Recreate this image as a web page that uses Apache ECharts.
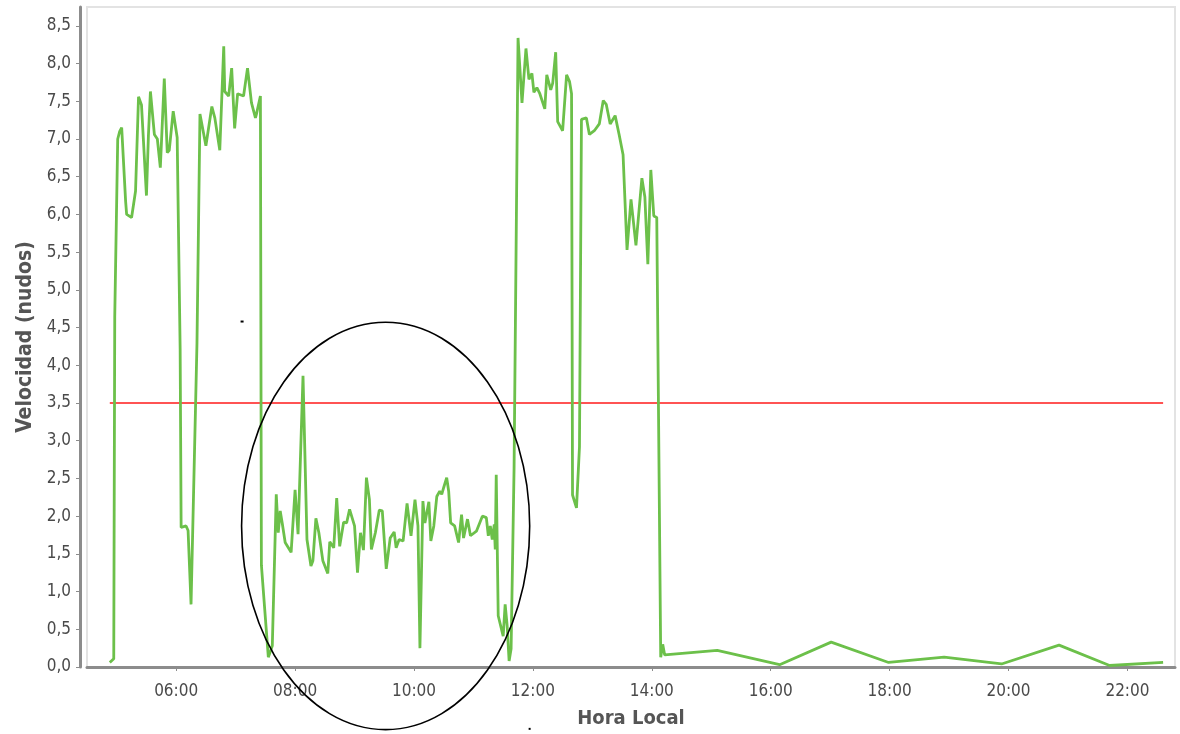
<!DOCTYPE html>
<html>
<head>
<meta charset="utf-8">
<script src="https://cdn.jsdelivr.net/npm/echarts@6/dist/echarts.min.js"></script>
<style>
html,body{margin:0;padding:0;background:#fff;}
#chart{width:1180px;height:734px;}
</style>
</head>
<body>
<div id="chart"></div>
<script>
// ---- data ----
const times = [
"04:53","04:57","04:58","05:01","05:03","05:05","05:09","05:10","05:15","05:19",
"05:22","05:25","05:30","05:32","05:34","05:38","05:41","05:44","05:48","05:51",
"05:53","05:57","06:01","06:04","06:05","06:10","06:12","06:15","06:21","06:24",
"06:30","06:36","06:39","06:44","06:48","06:49","06:53","06:56","06:59","07:02",
"07:08","07:12","07:16","07:20","07:21","07:25","07:26","07:33","07:37","07:41",
"07:43","07:45","07:47","07:50","07:56","08:00","08:03","08:08","08:12","08:16",
"08:18","08:21","08:24","08:28","08:33","08:35","08:39","08:42","08:45","08:49",
"08:52","08:55","08:57","09:00","09:03","09:06","09:09","09:12","09:15","09:17",
"09:21","09:25","09:28","09:32","09:36","09:40","09:42","09:45","09:49","09:53",
"09:57","10:01","10:04","10:06","10:09","10:11","10:15","10:17","10:20","10:23",
"10:26","10:28","10:30","10:33","10:35","10:37","10:41","10:45","10:48","10:50",
"10:54","10:57","11:03","11:09","11:13","11:15","11:17","11:19","11:21","11:22",
"11:23","11:25","11:30","11:32","11:34","11:36","11:38","11:41","11:45","11:49",
"11:53","11:56","11:59","12:01","12:04","12:07","12:12","12:14","12:18","12:20",
"12:23","12:25","12:30","12:34","12:37","12:39","12:40","12:44","12:47","12:49",
"12:54","12:57","13:02","13:07","13:11","13:14","13:18","13:23","13:27","13:31",
"13:34","13:35","13:39","13:44","13:50","13:53","13:56","13:59","14:02","14:05",
"14:09","14:11","14:13","15:06","16:09","17:01","17:59","18:55","19:53","20:51",
"21:42","22:36"
];
const speeds = [
0.06,0.11,4.64,7.00,7.10,7.15,6.17,6.00,5.96,6.31,
7.56,7.45,6.25,7.05,7.63,7.06,7.00,6.62,7.80,6.82,
6.85,7.37,7.02,4.22,1.85,1.87,1.81,0.83,4.30,7.33,
6.91,7.43,7.28,6.85,8.23,7.63,7.57,7.94,7.14,7.60,
7.57,7.94,7.48,7.28,7.33,7.57,1.35,0.13,0.28,2.29,
1.78,2.07,1.91,1.65,1.52,2.35,1.76,3.86,1.69,1.34,
1.41,1.97,1.78,1.41,1.24,1.66,1.58,2.24,1.60,1.92,
1.91,2.09,2.07,1.87,1.25,1.78,1.55,2.51,2.22,1.56,
1.78,2.08,2.07,1.30,1.71,1.79,1.58,1.69,1.67,2.17,
1.74,2.22,1.87,0.25,2.20,1.91,2.19,1.67,1.87,2.26,
2.33,2.29,2.38,2.51,2.33,1.91,1.87,1.65,2.02,1.71,
1.96,1.74,1.80,2.00,1.98,1.74,1.87,1.69,1.89,1.56,
2.55,0.68,0.41,0.83,0.55,0.08,0.24,2.64,8.34,7.48,
8.20,7.79,7.87,7.62,7.68,7.60,7.40,7.85,7.65,7.74,
8.15,7.23,7.11,7.85,7.76,7.60,2.28,2.11,2.92,7.26,
7.28,7.06,7.11,7.20,7.51,7.46,7.20,7.31,7.06,6.79,
5.84,5.53,6.20,5.59,6.48,6.23,5.34,6.59,5.98,5.96,
0.13,0.30,0.16,0.22,0.03,0.33,0.06,0.13,0.04,0.29,
0.02,0.06
];
const thresholdTimes = ["04:53","22:36"];
const thresholdValue = 3.5;
const xTickHours = [6,8,10,12,14,16,18,20,22];
const yTickValues = [0,0.5,1,1.5,2,2.5,3,3.5,4,4.5,5,5.5,6,6.5,7,7.5,8,8.5];
// annotation ellipse in data units: centre hour, centre value, half-width (h), half-height (knots)
const ellipseData = [9.523, 1.87, 2.423, 2.70];
// two stray dots in the picture, in data units
const dotData = [[7.10, 4.58], [11.945, -0.82]];

// ---- helpers ----
function toHours(s){const p=s.split(':');return (+p[0])+(+p[1])/60;}
const speedData = times.map((t,i)=>[toHours(t),speeds[i]]);
const thrData = thresholdTimes.map(t=>[toHours(t),thresholdValue]);

const chart = echarts.init(document.getElementById('chart'));
const labelFont = 'DejaVu Sans Condensed, DejaVu Sans, sans-serif';
chart.setOption({
  animation:false,
  backgroundColor:'#ffffff',
  grid:{left:87,right:5,top:7,bottom:66,show:true,borderColor:'#e3e3e3',borderWidth:2,backgroundColor:'#ffffff'},
  xAxis:{
    type:'value',min:4.5,max:22.8,offset:8,
    name:'Hora Local',nameLocation:'middle',nameGap:34,
    nameTextStyle:{fontFamily:labelFont,fontWeight:'bold',fontSize:20,color:'#555'},
    axisLine:{show:true,lineStyle:{color:'#8c8c8c',width:3}},
    axisTick:{show:true,length:4,lineStyle:{color:'#8c8c8c',width:1},customValues:xTickHours},
    axisLabel:{customValues:xTickHours,margin:8,fontSize:17,color:'#4a4a4a',fontFamily:labelFont,
      formatter:v=>(v<10?'0':'')+Math.round(v)+':00'},
    splitLine:{show:false}
  },
  yAxis:{
    type:'value',min:0,max:8.75,offset:7,
    name:'Velocidad (nudos)',nameLocation:'middle',nameRotate:90,nameGap:43,
    nameTextStyle:{fontFamily:labelFont,fontWeight:'bold',fontSize:21,color:'#555'},
    axisLine:{show:true,lineStyle:{color:'#8c8c8c',width:3}},
    axisTick:{show:true,length:4,lineStyle:{color:'#8c8c8c',width:1},customValues:yTickValues},
    axisLabel:{customValues:yTickValues,margin:9,fontSize:17,color:'#4a4a4a',fontFamily:labelFont,
      formatter:v=>v.toFixed(1).replace('.',',')},
    splitLine:{show:false}
  },
  series:[
    {type:'line',data:thrData,symbol:'none',lineStyle:{color:'#ff1a1a',width:1.5},z:2},
    {type:'line',data:speedData,symbol:'none',lineStyle:{color:'#6cc04a',width:2.8},z:3}
  ]
});

// annotation ellipse positioned from data coordinates
const c = chart.convertToPixel({gridIndex:0},[ellipseData[0],ellipseData[1]]);
const e = chart.convertToPixel({gridIndex:0},[ellipseData[0]+ellipseData[2],ellipseData[1]+ellipseData[3]]);
const d1 = chart.convertToPixel({gridIndex:0},dotData[0]);
const d2 = chart.convertToPixel({gridIndex:0},dotData[1]);
chart.setOption({
  graphic:[
    {type:'ellipse',shape:{cx:c[0],cy:c[1],rx:e[0]-c[0],ry:c[1]-e[1]},
     style:{fill:null,stroke:'#000',lineWidth:1.6},z:10},
    {type:'rect',shape:{x:d1[0]-1,y:d1[1]-1,width:3,height:2},style:{fill:'#000'},z:10},
    {type:'rect',shape:{x:d2[0]-1,y:d2[1]-1,width:2,height:2},style:{fill:'#000'},z:10}
  ]
});
</script>
</body>
</html>
